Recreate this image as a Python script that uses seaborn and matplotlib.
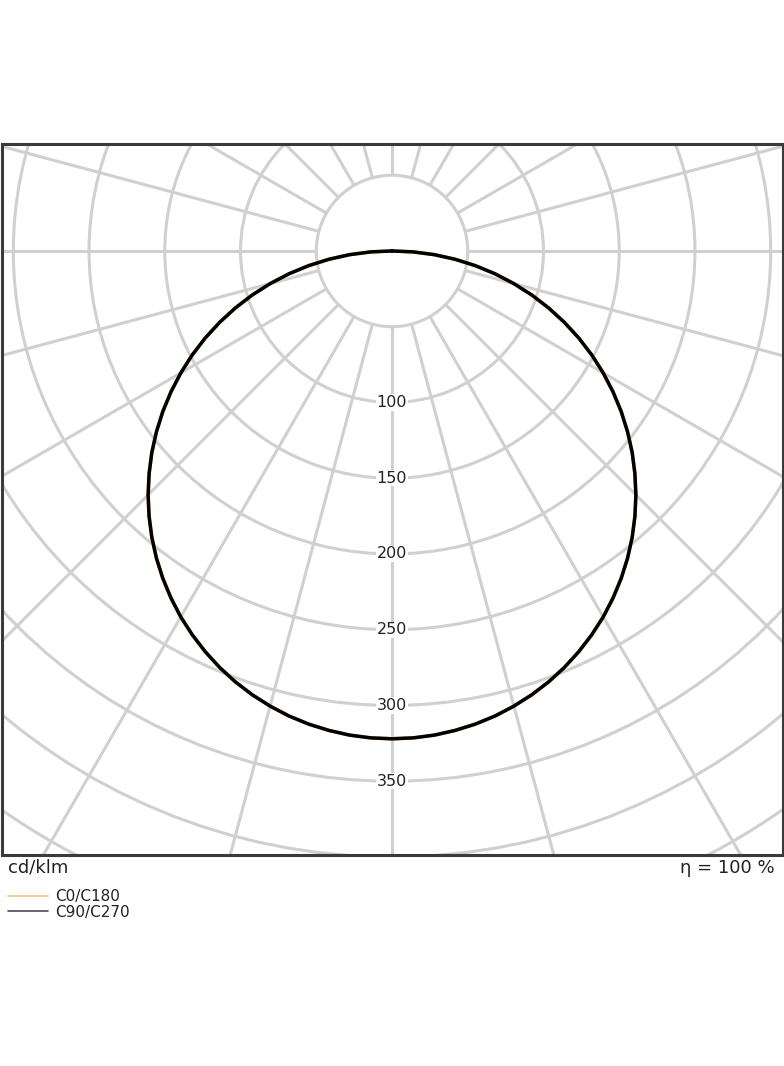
import numpy as np
import pandas as pd
import matplotlib
matplotlib.use("Agg")
import matplotlib.pyplot as plt
from matplotlib.patches import Circle
from matplotlib.lines import Line2D
import seaborn as sns

# luminous intensity distribution (cd/klm), gamma 0..90 deg in 2.5 deg steps
gamma = [0, 2.5, 5, 7.5, 10, 12.5, 15, 17.5, 20, 22.5, 25, 27.5, 30, 32.5, 35, 37.5,
         40, 42.5, 45, 47.5, 50, 52.5, 55, 57.5, 60, 62.5, 65, 67.5, 70, 72.5, 75,
         77.5, 80, 82.5, 85, 87.5, 90]
c0_c180 = [322, 321.7, 320.8, 319.2, 317.1, 314.4, 311.0, 307.1, 302.6, 297.5, 291.8,
           285.6, 278.9, 271.6, 263.8, 255.5, 246.7, 237.4, 227.7, 217.5, 207.0, 196.0,
           184.7, 173.0, 161.0, 148.7, 136.1, 123.2, 110.1, 96.8, 83.3, 69.7, 55.9,
           42.0, 28.1, 14.0, 0]
c90_c270 = [322, 321.7, 320.8, 319.2, 317.1, 314.4, 311.0, 307.1, 302.6, 297.5, 291.8,
            285.6, 278.9, 271.6, 263.8, 255.5, 246.7, 237.4, 227.7, 217.5, 207.0, 196.0,
            184.7, 173.0, 161.0, 148.7, 136.1, 123.2, 110.1, 96.8, 83.3, 69.7, 55.9,
            42.0, 28.1, 14.0, 0]
series_names = ["C0/C180", "C90/C270"]
ring_values = [50, 100, 150, 200, 250, 300, 350, 400, 450, 500]
ring_labels = [100, 150, 200, 250, 300, 350]
spoke_step = 15
efficiency = "η = 100 %"
unit = "cd/klm"

colors = {"C0/C180": "#f39a3a", "C90/C270": "#000000"}


def to_frame(name, values):
    # left half (C180 / C270) then right half (C0 / C90), one continuous line
    g = np.radians(np.array(gamma, dtype=float))
    v = np.array(values, dtype=float)
    x = np.concatenate([-(v * np.sin(g))[::-1], (v * np.sin(g))[1:]])
    y = np.concatenate([-(v * np.cos(g))[::-1], -(v * np.cos(g))[1:]])
    return pd.DataFrame({"x": x, "y": y, "series": name})


df = pd.concat([to_frame("C0/C180", c0_c180), to_frame("C90/C270", c90_c270)], ignore_index=True)

sns.set_style("white")
plt.rcParams["font.family"] = ["DejaVu Sans"]

fig = plt.figure(figsize=(7.84, 10.66), dpi=100)
ax = fig.add_axes([1.5 / 784, 1 - 855 / 1066, 781 / 784, 711 / 1066])

grid_c = "#d0d0d0"
grid_lw = 2.2

# rings
for r in ring_values:
    ax.add_patch(Circle((0, 0), r, fill=False, ec=grid_c, lw=grid_lw, zorder=1))

# spokes starting at the innermost ring
for a in range(0, 360, spoke_step):
    t = np.radians(a)
    ax.plot([50 * np.sin(t), 800 * np.sin(t)], [50 * np.cos(t), 800 * np.cos(t)],
            color=grid_c, lw=grid_lw, zorder=1, solid_capstyle="butt")

sns.lineplot(data=df, x="x", y="y", hue="series", palette=colors, sort=False,
             estimator=None, units="series", lw=2.5, ax=ax, legend=False, zorder=3)

for r in ring_labels:
    ax.text(0, -r, str(r), ha="center", va="center", fontsize=11.5, color="#222222",
            zorder=4, bbox=dict(facecolor="white", edgecolor="none", pad=0.5))

ax.set_xlim(-257.8, 257.8)
ax.set_ylim(-398.7, 70.6)
ax.set_xticks([])
ax.set_yticks([])
ax.set_xlabel("")
ax.set_ylabel("")
for s in ax.spines.values():
    s.set_visible(True)
    s.set_color("#3a3a3a")
    s.set_linewidth(2.2)

fig.text(8 / 784, 1 - 868 / 1066, unit, ha="left", va="center", fontsize=13, color="#222222")
fig.text(775 / 784, 1 - 868 / 1066, efficiency, ha="right", va="center", fontsize=13, color="#222222")

handles = [Line2D([], [], color="#f8bf8a", lw=1.2), Line2D([], [], color="#4a4a58", lw=1.2)]
fig.legend(handles, series_names, loc="upper left", bbox_to_anchor=(8 / 784, 1 - 889 / 1066),
           frameon=False, fontsize=11, borderpad=0, borderaxespad=0, handlelength=2.6,
           handletextpad=0.5, labelspacing=0.05, labelcolor="#222222")

fig.savefig("out.png", dpi=100)
